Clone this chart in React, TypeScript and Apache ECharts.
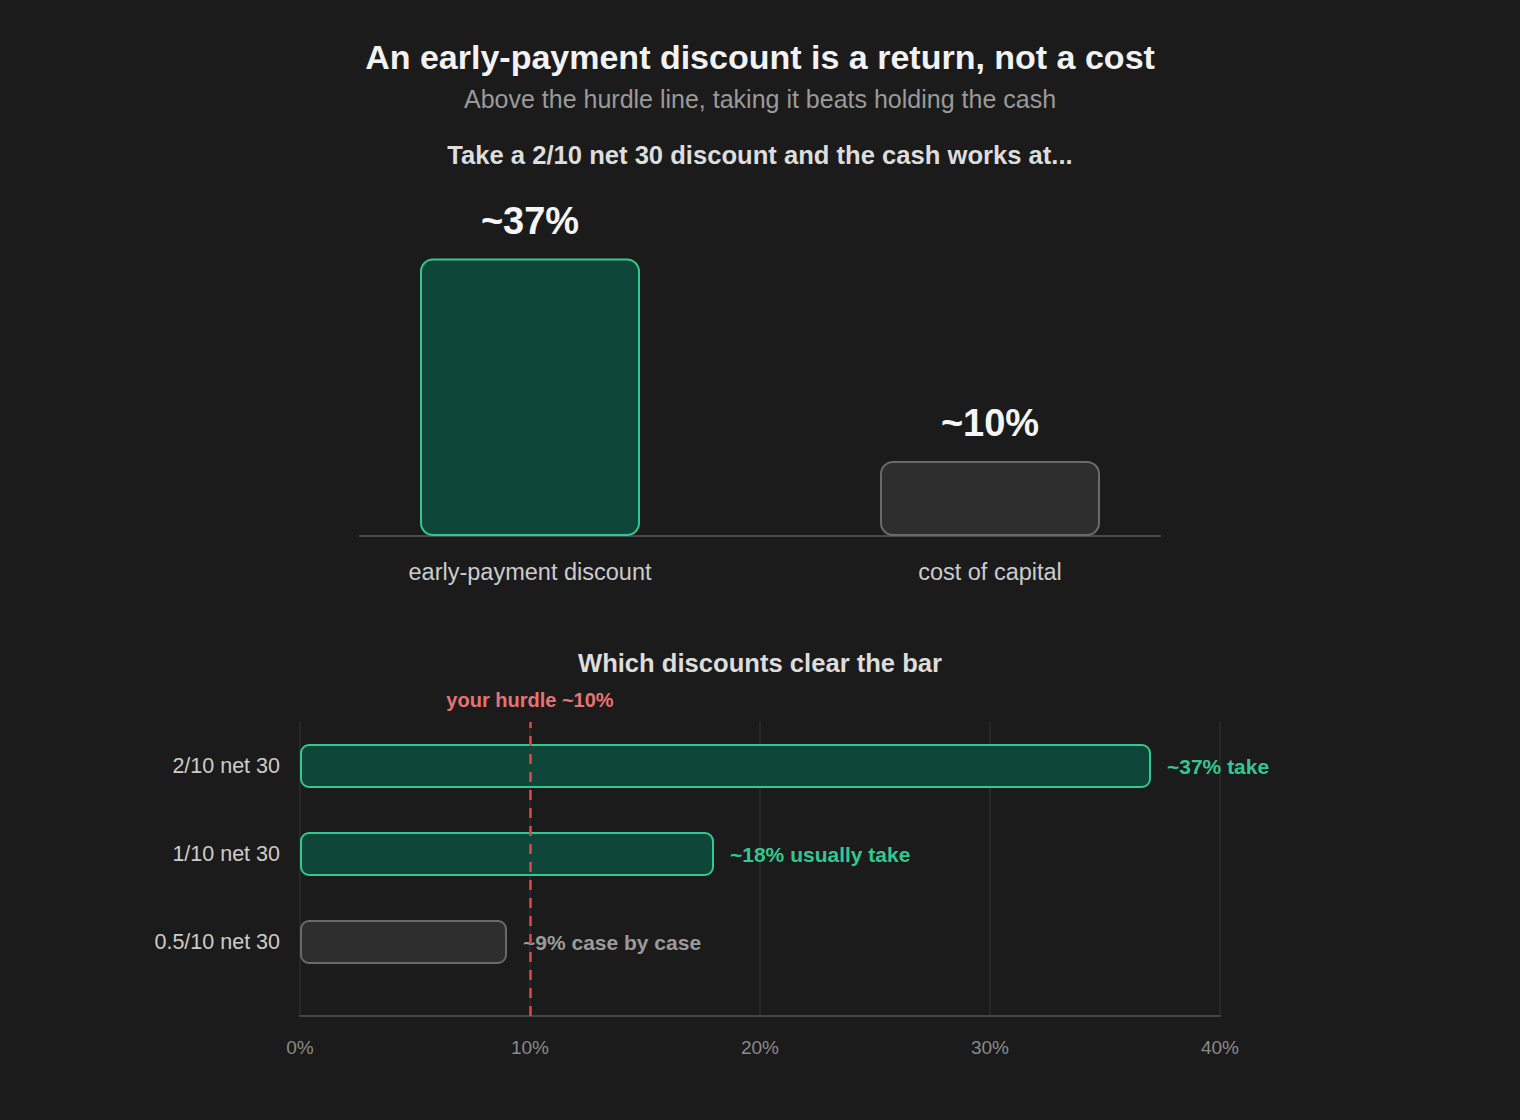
import React, { useEffect, useRef } from 'react';
import * as echarts from 'echarts';

// top comparison
const compareCategories = ['early-payment discount', 'cost of capital'];
const compareValues = [37, 10];
const compareLabels = ['~37%', '~10%'];

// bottom discount terms
const termCategories = ['2/10 net 30', '1/10 net 30', '0.5/10 net 30'];
const termValues = [37, 18, 9];
const termNotes = ['~37% take', '~18% usually take', '~9% case by case'];
const termClears = [true, true, false];
const hurdle = 10;
const xTicks = [0, 10, 20, 30, 40];

const BG = '#1b1b1b';
const GREEN = '#34c78f';
const GREEN_FILL = '#0e473a';
const GREY = '#6a6a6a';
const GREY_FILL = '#2e2e2e';
const FONT = '"Liberation Sans", Arial, sans-serif';

const App: React.FC = () => {
  const chartRef = useRef<HTMLDivElement>(null);

  useEffect(() => {
    document.body.style.margin = '0';
    document.body.style.background = BG;
    if (!chartRef.current) return;
    const chart = echarts.init(chartRef.current, undefined, { renderer: 'svg' });

    const option: echarts.EChartsOption = {
      backgroundColor: BG,
      animation: false,
      textStyle: { fontFamily: FONT },
      graphic: [
        {
          type: 'text', x: 760, y: 57,
          style: { text: 'An early-payment discount is a return, not a cost', fill: '#f2f2f2', font: `bold 34px ${FONT}`, textAlign: 'center', textVerticalAlign: 'middle' }
        },
        {
          type: 'text', x: 760, y: 99,
          style: { text: 'Above the hurdle line, taking it beats holding the cash', fill: '#9a9a9a', font: `25px ${FONT}`, textAlign: 'center', textVerticalAlign: 'middle' }
        },
        {
          type: 'text', x: 760, y: 155,
          style: { text: 'Take a 2/10 net 30 discount and the cash works at...', fill: '#dddddd', font: `bold 25.6px ${FONT}`, textAlign: 'center', textVerticalAlign: 'middle' }
        },
        {
          type: 'text', x: 760, y: 663,
          style: { text: 'Which discounts clear the bar', fill: '#dddddd', font: `bold 25.6px ${FONT}`, textAlign: 'center', textVerticalAlign: 'middle' }
        }
      ],
      grid: [
        { left: 300, width: 920, top: 236, height: 300 },
        { left: 300, width: 920, top: 722, height: 264 },
        { left: 300, width: 920, top: 722, height: 294 },
        { left: 360, width: 800, top: 236, height: 300 }
      ],
      xAxis: [
        {
          type: 'category', gridIndex: 0, data: compareCategories,
          axisLine: { show: false },
          axisTick: { show: false },
          axisLabel: { color: '#cccccc', fontSize: 23.5, margin: 24, fontFamily: FONT }
        },
        { type: 'value', gridIndex: 1, min: 0, max: 40, show: false },
        {
          type: 'value', gridIndex: 2, min: 0, max: 40, interval: 10,
          axisLine: { show: true, lineStyle: { color: '#444444', width: 2 } },
          axisTick: { show: false },
          splitLine: { show: true, lineStyle: { color: '#2c2c2c', width: 1.5 } },
          axisLabel: {
            color: '#8a8a8a', fontSize: 19, margin: 22, fontFamily: FONT,
            formatter: (v: number) => (xTicks.includes(v) ? `${v}%` : '')
          }
        },
        {
          type: 'value', gridIndex: 3, min: 0, max: 1,
          axisLine: { show: true, lineStyle: { color: '#4a4a4a', width: 2 } },
          axisTick: { show: false }, axisLabel: { show: false }, splitLine: { show: false }
        }
      ],
      yAxis: [
        { type: 'value', gridIndex: 0, min: 0, max: 40, show: false },
        {
          type: 'category', gridIndex: 1, data: termCategories, inverse: true,
          axisLine: { show: false }, axisTick: { show: false },
          axisLabel: { color: '#cccccc', fontSize: 21.5, margin: 20, fontFamily: FONT }
        },
        { type: 'value', gridIndex: 2, min: 0, max: 1, show: false },
        { type: 'value', gridIndex: 3, min: 0, max: 1, show: false }
      ],
      series: [
        {
          type: 'bar', xAxisIndex: 0, yAxisIndex: 0, barWidth: 220,
          data: compareValues.map((v, i) => ({
            value: v,
            itemStyle: {
              color: i === 0 ? GREEN_FILL : GREY_FILL,
              borderColor: i === 0 ? GREEN : GREY,
              borderWidth: 2,
              borderRadius: 12
            },
            label: {
              show: true, position: 'top', distance: 19,
              formatter: compareLabels[i],
              color: '#f5f5f5', fontSize: 38, fontWeight: 'bold', fontFamily: FONT
            }
          })),
          z: 3
        },
        {
          type: 'bar', xAxisIndex: 1, yAxisIndex: 1, barWidth: 44,
          data: termValues.map((v, i) => ({
            value: v,
            itemStyle: {
              color: termClears[i] ? GREEN_FILL : GREY_FILL,
              borderColor: termClears[i] ? GREEN : GREY,
              borderWidth: 2,
              borderRadius: 8
            },
            label: {
              show: true, position: 'right', distance: 16,
              formatter: termNotes[i],
              color: termClears[i] ? GREEN : '#9a9a9a',
              fontSize: 21, fontWeight: 'bold', fontFamily: FONT
            }
          })),
          z: 3
        },
        {
          type: 'scatter', xAxisIndex: 2, yAxisIndex: 2, data: [],
          markLine: {
            silent: true, symbol: 'none', z: 5,
            lineStyle: { color: '#e04848', type: [10, 8], width: 2.5 },
            label: {
              show: true, position: 'end', distance: 12,
              formatter: 'your hurdle ~10%',
              color: '#e57373', fontSize: 20, fontWeight: 'bold', fontFamily: FONT
            },
            data: [{ xAxis: hurdle }]
          }
        }
      ]
    };

    chart.setOption(option);
    return () => {
      chart.dispose();
    };
  }, []);

  return <div ref={chartRef} style={{ width: 1520, height: 1120 }} />;
};

export default App;
